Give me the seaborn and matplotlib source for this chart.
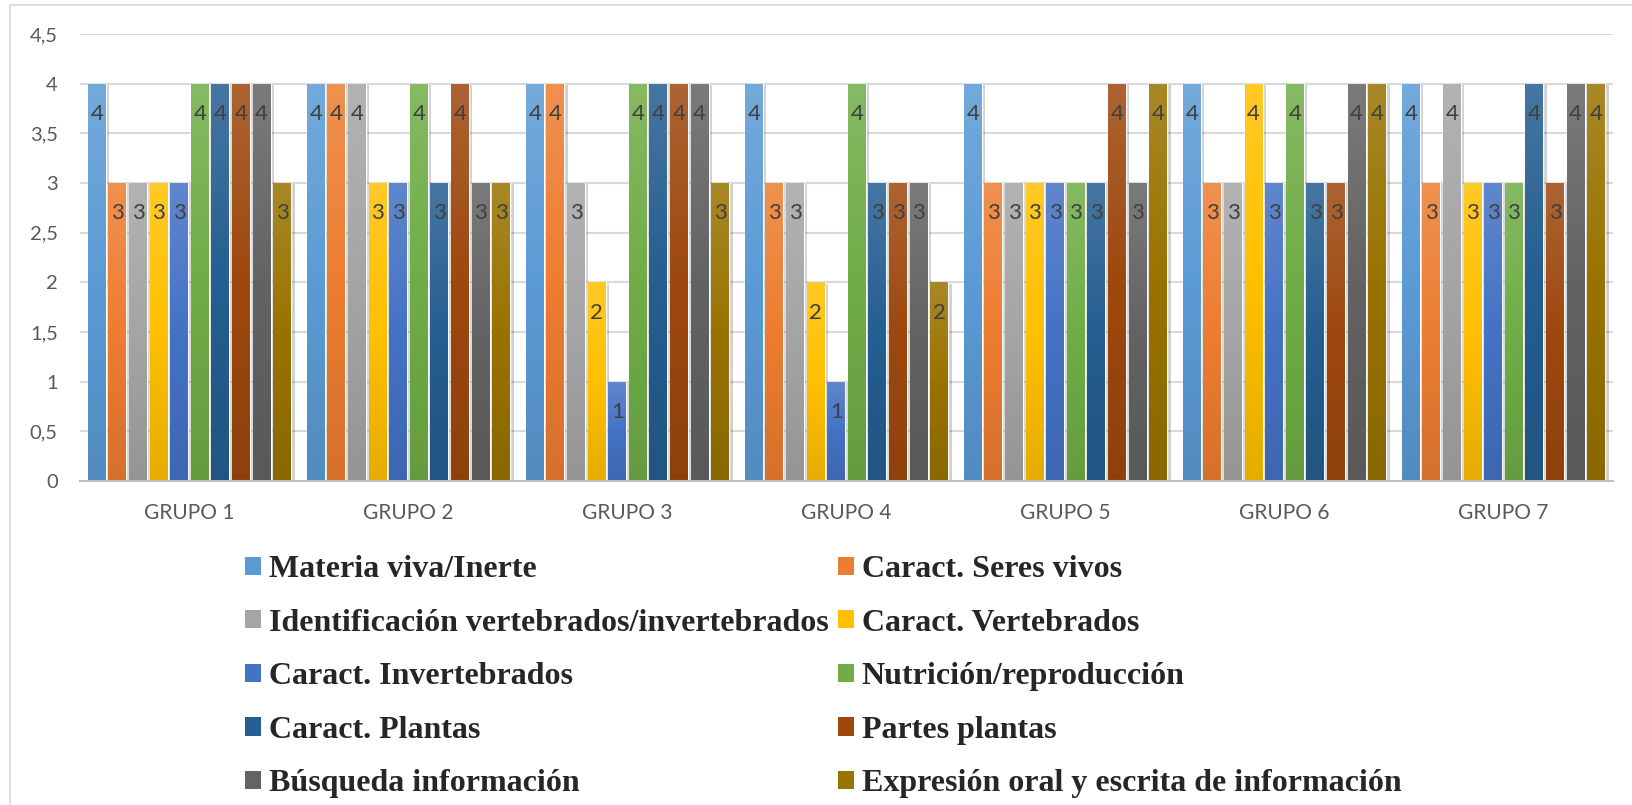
import numpy as np
import pandas as pd
import matplotlib
matplotlib.use("Agg")
import matplotlib.pyplot as plt
import matplotlib.patches as mpatches
import matplotlib.patheffects as pe
from matplotlib.colors import LinearSegmentedColormap, to_rgb
import seaborn as sns

# datos
grupos = ["GRUPO 1", "GRUPO 2", "GRUPO 3", "GRUPO 4", "GRUPO 5", "GRUPO 6", "GRUPO 7"]
series = ["Materia viva/Inerte", "Caract. Seres vivos",
          "Identificación vertebrados/invertebrados", "Caract. Vertebrados",
          "Caract. Invertebrados", "Nutrición/reproducción",
          "Caract. Plantas", "Partes plantas",
          "Búsqueda información", "Expresión oral y escrita de información"]

materia_viva = [4, 4, 4, 4, 4, 4, 4]
seres_vivos = [3, 4, 4, 3, 3, 3, 3]
identificacion = [3, 4, 3, 3, 3, 3, 4]
vertebrados = [3, 3, 2, 2, 3, 4, 3]
invertebrados = [3, 3, 1, 1, 3, 3, 3]
nutricion = [4, 4, 4, 4, 3, 4, 3]
plantas = [4, 3, 4, 3, 3, 3, 4]
partes_plantas = [4, 4, 4, 3, 4, 3, 3]
busqueda = [4, 3, 4, 3, 3, 4, 4]
expresion = [3, 3, 3, 2, 4, 4, 4]

valores = [materia_viva, seres_vivos, identificacion, vertebrados, invertebrados,
           nutricion, plantas, partes_plantas, busqueda, expresion]

colores = ["#5B9BD5", "#ED7D31", "#A5A5A5", "#FFC000", "#4472C4",
           "#70AD47", "#255E91", "#9E480E", "#636363", "#997300"]

filas = []
for s, vals in zip(series, valores):
    for g, v in zip(grupos, vals):
        filas.append({"grupo": g, "serie": s, "valor": v})
df = pd.DataFrame(filas)

sns.set_style("white")
plt.rcParams["font.family"] = ["Lato", "DejaVu Sans"]

fig = plt.figure(figsize=(16.33, 8.05), dpi=100)
ax = fig.add_axes([80 / 1633, 1 - 481 / 805, 1533 / 1633, 447 / 805])

sns.barplot(data=df, x="grupo", y="valor", hue="serie", order=grupos,
            hue_order=series, palette=colores, width=0.94, gap=0.13,
            legend=False, ax=ax, zorder=2)


def mezcla(c, otro, t):
    c = np.array(to_rgb(c))
    return tuple(c * (1 - t) + np.array(otro) * t)


grad = np.linspace(1, 0, 128).reshape(-1, 1)
for cont, base in zip(ax.containers, colores):
    cmap = LinearSegmentedColormap.from_list(
        "g", [mezcla(base, (0, 0, 0), 0.1), base, mezcla(base, (1, 1, 1), 0.15)])
    for bar in cont:
        x, w, h = bar.get_x(), bar.get_width(), bar.get_height()
        bar.set_path_effects([pe.SimplePatchShadow(offset=(2.5, -1), shadow_rgbFace="black",
                                                   alpha=0.18), pe.Normal()])
        im = ax.imshow(grad, extent=[x, x + w, 0, h], aspect="auto", cmap=cmap,
                       vmin=0, vmax=1, zorder=2.5, interpolation="bilinear")
        im.set_clip_path(bar)
    txt = ax.bar_label(cont, fmt="%g", padding=-29, fontsize=16, color="#404040")
    for t in txt:
        t.set_zorder(5)

ax.set_aspect("auto")
ax.set_xlim(-0.5, 6.5)
ax.set_ylim(0, 4.5)
ticks = [0, 0.5, 1, 1.5, 2, 2.5, 3, 3.5, 4, 4.5]
ax.set_yticks(ticks)
ax.set_yticklabels(["0", "0,5", "1", "1,5", "2", "2,5", "3", "3,5", "4", "4,5"])
ax.tick_params(axis="y", length=0, pad=16, labelsize=14.5, labelcolor="#595959")
ax.tick_params(axis="x", length=0, pad=16, labelsize=15, labelcolor="#595959")
ax.grid(axis="y", color="#D9D9D9", lw=1.5)
ax.set_axisbelow(True)
for lado in ["top", "left", "right"]:
    ax.spines[lado].set_visible(False)
ax.spines["bottom"].set_color("#BFBFBF")
ax.spines["bottom"].set_linewidth(1.5)
ax.set_xlabel("")
ax.set_ylabel("")

# leyenda en dos columnas, ordenada por filas
orden = [0, 2, 4, 6, 8, 1, 3, 5, 7, 9]
handles = [mpatches.Patch(facecolor=colores[i], edgecolor="none") for i in orden]
labels = [series[i] for i in orden]
fig.legend(handles, labels, ncol=2, loc="upper left",
           bbox_to_anchor=(245 / 1633, 1 - 555 / 805), bbox_transform=fig.transFigure,
           frameon=False, borderpad=0, borderaxespad=0,
           prop={"family": "Liberation Serif", "weight": "bold", "size": 23},
           handlelength=0.5, handleheight=0.5, handletextpad=0.25,
           columnspacing=0.28, labelspacing=0.77)

# marco del grafico
fig.patches.append(mpatches.Rectangle((10 / 1633, -0.1), 1.2, (800 / 805) + 0.1,
                                      transform=fig.transFigure, fill=False,
                                      edgecolor="#D9D9D9", lw=1.2))

fig.savefig("out.png", dpi=100)
